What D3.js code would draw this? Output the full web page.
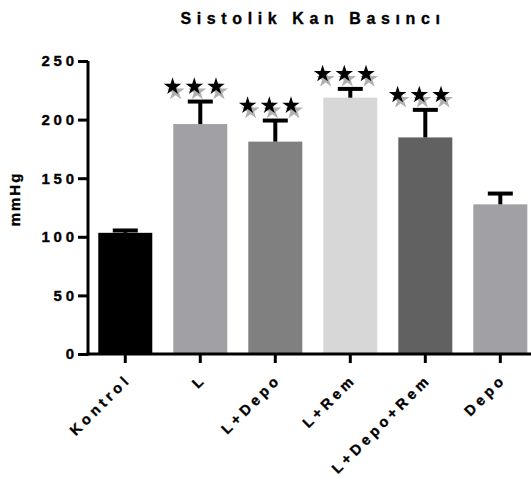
<!DOCTYPE html>
<html>
<head>
<meta charset="utf-8">
<script src="https://cdn.jsdelivr.net/npm/d3@7"></script>
<style>
  html, body { margin: 0; padding: 0; background: #fff; }
  svg { display: block; }
  text { font-family: "Liberation Sans", Arial, sans-serif; font-weight: bold; fill: #000;
         stroke: #000; stroke-width: 0.35px; }
</style>
</head>
<body>
<svg id="chart" width="531" height="488"></svg>
<script>
// Groups, mean systolic pressure (mmHg) and upper error (SEM)
const groups = ["Kontrol", "L", "L+Depo", "L+Rem", "L+Depo+Rem", "Depo"];
const means  = [103.4, 196.2, 181.2, 218.7, 184.8, 127.7];
const errors = [2.0, 19.2, 18.0, 7.5, 23.5, 9.2];
const significance = [0, 3, 3, 3, 3, 0]; // number of stars above each bar
const barColors = ["#000000", "#a1a1a5", "#808080", "#d7d7d7", "#616161", "#a1a1a5"];
const yTicks = [0, 50, 100, 150, 200, 250];
const title = "Sistolik Kan Basıncı";
const yTitle = "mmHg";

const svg = d3.select("#chart");
const axisX = 88, axisY0 = 354, axisYTop = 61;

const y = d3.scaleLinear().domain([0, 250]).range([axisY0, axisYTop]);
const x = d3.scaleBand()
  .domain(groups)
  .range([axisX, axisX + 449.6])
  .paddingInner(0.28)
  .paddingOuter(0.137);

const data = groups.map((g, i) => ({
  group: g, mean: means[i], err: errors[i], stars: significance[i], color: barColors[i]
}));

// Title
svg.append("text")
  .attr("x", 313).attr("y", 24)
  .attr("text-anchor", "middle")
  .style("font-size", "16px")
  .style("letter-spacing", "5.6px")
  .text(title);

// Bars
svg.append("g").selectAll("rect")
  .data(data).join("rect")
  .attr("x", d => x(d.group))
  .attr("y", d => y(d.mean))
  .attr("width", x.bandwidth())
  .attr("height", d => y(0) - y(d.mean))
  .attr("fill", d => d.color);

// Upper error bars
const capW = 25;
const eb = svg.append("g").attr("stroke", "#000").attr("stroke-width", 4);
data.forEach(d => {
  const cx = x(d.group) + x.bandwidth() / 2;
  eb.append("line")
    .attr("x1", cx).attr("x2", cx)
    .attr("y1", y(d.mean)).attr("y2", y(d.mean + d.err));
  eb.append("line")
    .attr("x1", cx - capW / 2).attr("x2", cx + capW / 2)
    .attr("y1", y(d.mean + d.err)).attr("y2", y(d.mean + d.err));
});

// Significance stars with a soft drop shadow
const star = d3.symbol().type(d3.symbolStar).size(95)();
const starLayer = svg.append("g");
data.filter(d => d.stars > 0).forEach(d => {
  const cx = x(d.group) + x.bandwidth() / 2 - 6;
  const cy = y(d.mean + d.err) - 15;
  const offs = d3.range(d.stars).map(k => (k - (d.stars - 1) / 2) * 21.7);
  offs.forEach(o => {
    starLayer.append("path").attr("d", star)
      .attr("transform", `translate(${cx + o + 3},${cy + 5}) scale(1.03)`)
      .attr("fill", "#b0b0b0");
  });
  offs.forEach(o => {
    starLayer.append("path").attr("d", star)
      .attr("transform", `translate(${cx + o},${cy})`)
      .attr("fill", "#000");
  });
});

// Y axis
const yAxis = svg.append("g")
  .attr("transform", `translate(${axisX},0)`)
  .call(d3.axisLeft(y).tickValues(yTicks).tickSize(10).tickPadding(4));
yAxis.select(".domain").attr("stroke", "#000").attr("stroke-width", 3)
  .attr("d", `M0,${axisYTop}V${axisY0 + 1.5}`);
yAxis.selectAll(".tick line").attr("stroke", "#000").attr("stroke-width", 3);
yAxis.selectAll(".tick text")
  .style("font-size", "15px")
  .style("letter-spacing", "3.7px")
  .attr("dx", 3.7)
  .attr("font-family", null);

// X axis
const xAxis = svg.append("g")
  .attr("transform", `translate(0,${axisY0})`)
  .call(d3.axisBottom(x).tickSize(9).tickFormat(""));
xAxis.select(".domain").attr("stroke", "#000").attr("stroke-width", 3)
  .attr("d", `M${axisX - 1.5},0H531`);
xAxis.selectAll(".tick line").attr("stroke", "#000").attr("stroke-width", 3);

// Rotated category labels
svg.append("g").selectAll("text")
  .data(groups).join("text")
  .attr("transform", g => `translate(${x(g) + x.bandwidth() / 2 + 4},${axisY0 + 29}) rotate(-45)`)
  .attr("text-anchor", "end")
  .attr("dx", 4)
  .style("font-size", "14.5px")
  .style("letter-spacing", "4px")
  .text(g => g);

// Y axis title
svg.append("text")
  .attr("transform", `translate(20,199) rotate(-90)`)
  .attr("text-anchor", "middle")
  .style("font-size", "15px")
  .style("letter-spacing", "2px")
  .text(yTitle);
</script>
</body>
</html>
